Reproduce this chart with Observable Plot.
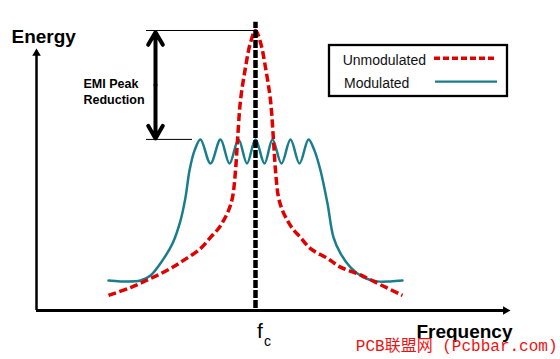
<!DOCTYPE html>
<html><head><meta charset="utf-8">
<script src="https://cdn.jsdelivr.net/npm/d3@7"></script>
<script src="https://cdn.jsdelivr.net/npm/@observablehq/plot@0.6"></script>
<style>
body{margin:0;background:#fff;font-family:"Liberation Sans",Arial,sans-serif;}
#wrap{position:relative;width:560px;height:359px;overflow:hidden;}
#legend{position:absolute;left:327px;top:43px;}
</style></head><body>
<div id="wrap"><div id="chart"></div><div id="legend"></div></div>
<script>
// ---- data (frequency offset from fc in arbitrary units, energy in arbitrary units) ----
const seriesNames = ["Unmodulated", "Modulated"];
const centerFreq = 0;
const unmodFreq = [-14.7,-12.5,-10.5,-8.5,-7.2,-5.5,-4.5,-3.7,-3.2,-2.7,-2.3,-2.0,-1.8,-1.5,-1.0,-0.5,0,
                   0.5,1.0,1.5,1.8,2.0,2.3,2.7,3.2,3.7,4.5,5.5,7.2,8.5,10.5,12.5,14.7];
const unmodEnergy = [5.4,8.2,11.4,15.0,17.9,22.1,26.1,29.3,32.1,35.7,40.4,50,60.7,75,86.8,95.7,100,
                     95.7,86.8,75,60.7,50,40.4,35.7,32.1,29.3,26.1,22.1,18.6,15.5,12.7,9.2,5.4];
const modFreq = [-14.7,-13.5,-11.5,-10.5,-9.3,-8.3,-7.5,-7.0,-6.6,-6.1,-5.5,-4.5,-3.5,-2.6,-1.7,-0.85,0,
                 0.9,1.7,2.6,3.5,4.4,5.3,5.9,6.5,7.2,7.8,8.5,9.5,10.8,12.2,13.5,14.7];
const modEnergy = [10.7,10.4,10.7,12.5,17.9,23.9,32.1,40.4,50,57.1,61.1,52.5,61.1,52.5,61.1,52.5,61.1,
                   52.5,61.1,52.5,61.1,52.5,61.1,57.1,50,38.2,26.1,20.4,15.4,11.8,10.4,10.4,10.7];
const emiLabelLines = ["EMI Peak", "Reduction"];
const axisLabels = {y: "Energy", x: "Frequency"};
const centerLabel = ["f", "c"];
const watermark = "PCB联盟网 (Pcbbar.com)";

// ---- styles ----
const RED = "#e00000", TEAL = "#1a7d8c";
const FONT = "Liberation Sans, Arial, sans-serif";

const unmod = unmodFreq.map((f, i) => ({f, e: unmodEnergy[i]}));
const mod = modFreq.map((f, i) => ({f, e: modEnergy[i]}));
const peakUnmod = d3.max(unmodEnergy);
const peakMod = d3.max(modEnergy);

// scale frame
const X0 = -21.9, X1 = 25.7;   // x domain (axis extent)
const Y1 = 110.71;             // y domain top
const xArrowTip = 25.5, yArrowTip = 93.6;
const emiX = -10, emiLeft = -10.9;
const R = 3.2;
const tri = Math.sqrt(Math.PI * R * R / (3 * Math.sqrt(3))) * 2; // tip offset for triangle symbol

const plot = Plot.plot({
  width: 560, height: 359,
  marginLeft: 0, marginRight: 0, marginTop: 0, marginBottom: 0,
  style: {fontFamily: FONT, background: "white", overflow: "visible"},
  x: {domain: [X0, X1], range: [36, 512], axis: null},
  y: {domain: [0, Y1], range: [310, 0], axis: null},
  marks: [
    // axes
    Plot.ruleY([0], {x1: X0, x2: xArrowTip - 0.5, stroke: "black", strokeWidth: 3}),
    Plot.ruleX([X0], {y1: 0, y2: yArrowTip - 1, stroke: "black", strokeWidth: 2.5}),
    Plot.dot([0], {x: xArrowTip, y: 0, symbol: "triangle", r: R, rotate: 90, dx: -tri, fill: "black"}),
    Plot.dot([0], {x: X0, y: yArrowTip, symbol: "triangle", r: R, dy: tri, fill: "black"}),
    // reference lines for peak reduction
    Plot.ruleY([peakUnmod], {x1: emiLeft, x2: centerFreq, stroke: "black", strokeWidth: 1}),
    Plot.ruleY([peakMod], {x1: emiLeft, x2: d3.min(mod.filter(d => d.e === peakMod), d => d.f) - 0.8, stroke: "black", strokeWidth: 1}),
    // double arrow
    Plot.arrow([{a: (peakUnmod + peakMod) / 2, b: peakUnmod - 0.6}, {a: (peakUnmod + peakMod) / 2, b: peakMod + 0.3}], {
      x1: emiX, x2: emiX, y1: "a", y2: "b", stroke: "black", strokeWidth: 4, headLength: 5.5, headAngle: 60
    }),
    // curves
    Plot.line(mod, {x: "f", y: "e", stroke: TEAL, strokeWidth: 2.5, curve: "catmull-rom"}),
    Plot.line(unmod, {x: "f", y: "e", stroke: RED, strokeWidth: 3.5, strokeDasharray: "8,3.5",
      strokeLinecap: "butt", strokeLinejoin: "miter", curve: "catmull-rom"}),
    // fc line
    Plot.ruleX([centerFreq], {y1: 0.7, y2: 102.9, stroke: "black", strokeWidth: 4.5, strokeDasharray: "8,2"}),
    // texts
    Plot.text([emiLabelLines[0]], {x: emiX, dx: -72, y: (peakUnmod + peakMod) / 2, dy: 3,
      textAnchor: "start", lineAnchor: "bottom", fontWeight: "bold", fontSize: 12.5, fill: "black"}),
    Plot.text([emiLabelLines[1]], {x: emiX, dx: -72, y: (peakUnmod + peakMod) / 2, dy: 19,
      textAnchor: "start", lineAnchor: "bottom", fontWeight: "bold", fontSize: 12.5, fill: "black"}),
    Plot.text([axisLabels.y], {frameAnchor: "top-left", dx: 11, dy: 42, textAnchor: "start", lineAnchor: "bottom",
      fontWeight: "bold", fontSize: 19, fill: "black"}),
    Plot.text([axisLabels.x], {frameAnchor: "bottom-right", dx: -48, dy: -22, textAnchor: "end", lineAnchor: "bottom",
      fontWeight: "bold", fontSize: 19, fill: "black"}),
    Plot.text([centerLabel[0]], {x: centerFreq, y: 0, dx: 1.5, dy: 27, textAnchor: "start", lineAnchor: "bottom", fontSize: 21, fill: "black"}),
    Plot.text([centerLabel[1]], {x: centerFreq, y: 0, dx: 8.5, dy: 35, textAnchor: "start", lineAnchor: "bottom", fontSize: 14, fill: "black"}),
    Plot.text([watermark], {frameAnchor: "bottom-right", dx: -3, dy: -9, textAnchor: "end", lineAnchor: "bottom",
      fontSize: 16, fill: "#ee1111", fontFamily: "Liberation Mono, Noto Sans CJK SC, monospace"})
  ]
});
document.getElementById("chart").appendChild(plot);

// legend
const lg = d3.select("#legend").append("svg").attr("width", 183).attr("height", 57)
  .style("font-family", FONT);
lg.append("rect").attr("x", 2).attr("y", 2).attr("width", 178).attr("height", 51)
  .attr("fill", "white").attr("stroke", "black").attr("stroke-width", 2.3);
const rows = [
  {name: seriesNames[0], stroke: RED, width: 3.5, dash: "6,3", ty: 22, ly: 15.3, tx: 15.7, lx: 107},
  {name: seriesNames[1], stroke: TEAL, width: 2.2, dash: null, ty: 45.3, ly: 38.7, tx: 17, lx: 108}
];
for (const r of rows) {
  lg.append("text").attr("x", r.tx).attr("y", r.ty).attr("font-size", 14).attr("fill", "#111").text(r.name);
  lg.append("line").attr("x1", r.lx).attr("x2", 170).attr("y1", r.ly).attr("y2", r.ly)
    .attr("stroke", r.stroke).attr("stroke-width", r.width).attr("stroke-dasharray", r.dash);
}
</script>
</body></html>
